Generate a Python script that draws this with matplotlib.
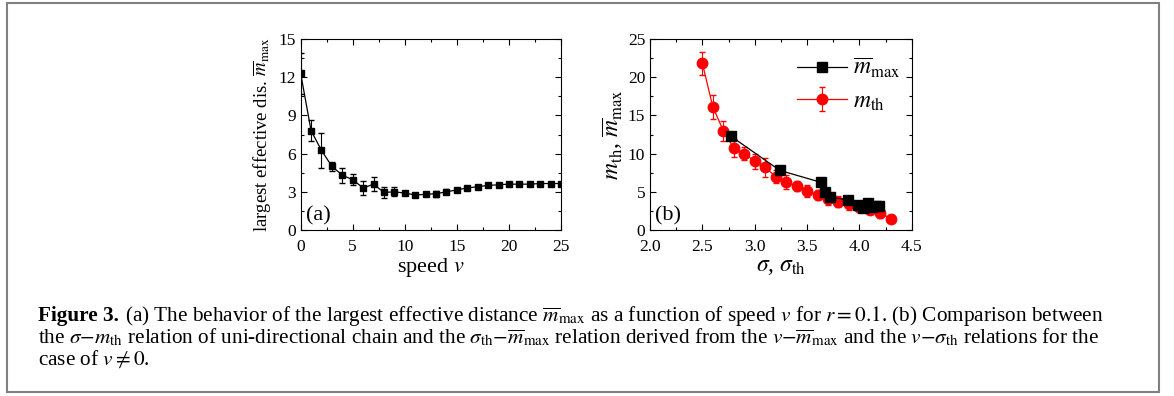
import matplotlib
matplotlib.use("Agg")
import matplotlib.pyplot as plt
from matplotlib.patches import Rectangle
from matplotlib.ticker import MultipleLocator, FormatStrFormatter

plt.rcParams['font.family'] = ['Liberation Serif', 'DejaVu Serif']
plt.rcParams['mathtext.fontset'] = 'stix'

# panel (a): largest effective distance vs speed
speed = list(range(0, 26))
m_max = [12.3, 7.8, 6.25, 5.0, 4.3, 3.95, 3.3, 3.6, 2.95, 3.0, 2.9, 2.75, 2.8,
         2.85, 3.0, 3.15, 3.3, 3.4, 3.5, 3.55, 3.6, 3.6, 3.6, 3.65, 3.65, 3.65]
m_max_err = [1.6, 0.8, 1.35, 0.35, 0.6, 0.45, 0.55, 0.55, 0.45, 0.35, 0.15, 0.1, 0.15,
             0.25, 0.2, 0.1, 0.1, 0.1, 0.1, 0.05, 0.05, 0.05, 0.05, 0.05, 0.05, 0.05]

# panel (b): sigma_th - m_max relation
sig_th = [2.77, 3.24, 3.63, 3.67, 3.72, 3.89, 3.99, 4.03, 4.08, 4.12, 4.16, 4.19]
m_max_b = [12.3, 7.8, 6.25, 5.0, 4.3, 3.95, 3.3, 2.9, 3.55, 3.0, 3.2, 3.1]

# panel (b): sigma - m_th relation of uni-directional chain
sigma = [2.5, 2.6, 2.7, 2.8, 2.9, 3.0, 3.1, 3.2, 3.3, 3.4, 3.5,
         3.6, 3.7, 3.8, 3.9, 4.0, 4.1, 4.2, 4.3]
m_th = [21.8, 16.1, 13.0, 10.7, 10.0, 9.0, 8.2, 7.0, 6.3, 5.75, 5.1,
        4.6, 4.0, 3.7, 3.4, 3.0, 2.6, 2.2, 1.5]
m_th_err = [1.5, 1.6, 1.3, 1.2, 0.9, 1.0, 1.2, 0.9, 0.9, 0.7, 0.8,
            0.7, 0.7, 0.7, 0.8, 0.6, 0.5, 0.6, 0.5]

fig = plt.figure(figsize=(11.74, 3.96), dpi=100)

# grey frame around figure + caption
fig.patches.append(Rectangle((0.0057, 0.0101), 0.9815, 0.983, transform=fig.transFigure,
                             fill=False, edgecolor='#808080', linewidth=1.5))

ax1 = fig.add_axes([0.2561, 0.4192, 0.2218, 0.4823])
ax2 = fig.add_axes([0.5537, 0.4192, 0.2229, 0.4823])

for ax in (ax1, ax2):
    ax.tick_params(which='both', direction='in', top=True, right=True, labelsize=12.5)
    ax.tick_params(which='major', length=4.5, width=0.8)
    ax.tick_params(which='minor', length=2.5, width=0.8)
    ax.tick_params(axis='x', pad=6.5)

ax1.errorbar(speed, m_max, yerr=m_max_err, color='black', marker='s', markersize=5,
             linewidth=0.9, elinewidth=0.8, capsize=2.5)
ax1.set_xlim(0, 25)
ax1.set_ylim(0, 15)
ax1.xaxis.set_major_locator(MultipleLocator(5))
ax1.xaxis.set_minor_locator(MultipleLocator(2.5))
ax1.yaxis.set_major_locator(MultipleLocator(3))
ax1.yaxis.set_minor_locator(MultipleLocator(1.5))
ax1.set_xlabel(r'speed $v$', fontsize=16, labelpad=1)
ax1.set_ylabel(r'largest effective dis. $\overline{m}_{\rm max}$', fontsize=13.5, labelpad=4)
ax1.text(0.02, 0.05, '(a)', transform=ax1.transAxes, fontsize=16)

ax2.errorbar(sigma, m_th, yerr=m_th_err, color='red', marker='o', markersize=7.5,
             linewidth=0.9, elinewidth=0.8, capsize=2.5, label=r'$m_{\rm th}$', zorder=2)
ax2.plot(sig_th, m_max_b, color='black', marker='s', markersize=7, linewidth=0.9,
         label=r'$\overline{m}_{\rm max}$', zorder=3)
ax2.set_xlim(2.0, 4.5)
ax2.set_ylim(0, 25)
ax2.xaxis.set_major_locator(MultipleLocator(0.5))
ax2.xaxis.set_minor_locator(MultipleLocator(0.25))
ax2.xaxis.set_major_formatter(FormatStrFormatter('%.1f'))
ax2.yaxis.set_major_locator(MultipleLocator(5))
ax2.yaxis.set_minor_locator(MultipleLocator(2.5))
ax2.set_xlabel(r'$\sigma$, $\sigma_{\rm th}$', fontsize=17, labelpad=1)
ax2.set_ylabel(r'$\mathbf{\mathit{m}}_{\rm th}$, $\overline{\mathbf{\mathit{m}}}_{\rm max}$',
               fontsize=17, labelpad=2)
ax2.text(0.02, 0.05, '(b)', transform=ax2.transAxes, fontsize=16)
handles, labels = ax2.get_legend_handles_labels()
ax2.legend(handles, labels, loc='upper left', frameon=False, fontsize=17,
           handlelength=2.1, handletextpad=0.25, labelspacing=0.45,
           borderpad=0, borderaxespad=0, bbox_to_anchor=(0.562, 0.91))

# caption
cap_size = 15.3
fig.text(38 / 1174, 1 - 321 / 396, 'Figure 3.', fontsize=cap_size, fontweight='bold',
         va='baseline')
fig.text(125 / 1174, 1 - 321 / 396,
         r'(a) The behavior of the largest effective distance $\overline{m}_{\rm max}$ as a '
         r'function of speed $v$ for $r = 0.1$. (b) Comparison between',
         fontsize=cap_size, va='baseline')
fig.text(38 / 1174, 1 - 343 / 396,
         r'the $\sigma$$-$$m_{\rm th}$ relation of uni-directional chain and the '
         r'$\sigma_{\rm th}$$-$$\overline{m}_{\rm max}$ relation derived from the '
         r'$v$$-$$\overline{m}_{\rm max}$ and the $v$$-$$\sigma_{\rm th}$ relations for the',
         fontsize=cap_size, va='baseline')
fig.text(38 / 1174, 1 - 365 / 396, r'case of $v \neq 0$.', fontsize=cap_size,
         va='baseline')

fig.savefig('out.png', dpi=100)
